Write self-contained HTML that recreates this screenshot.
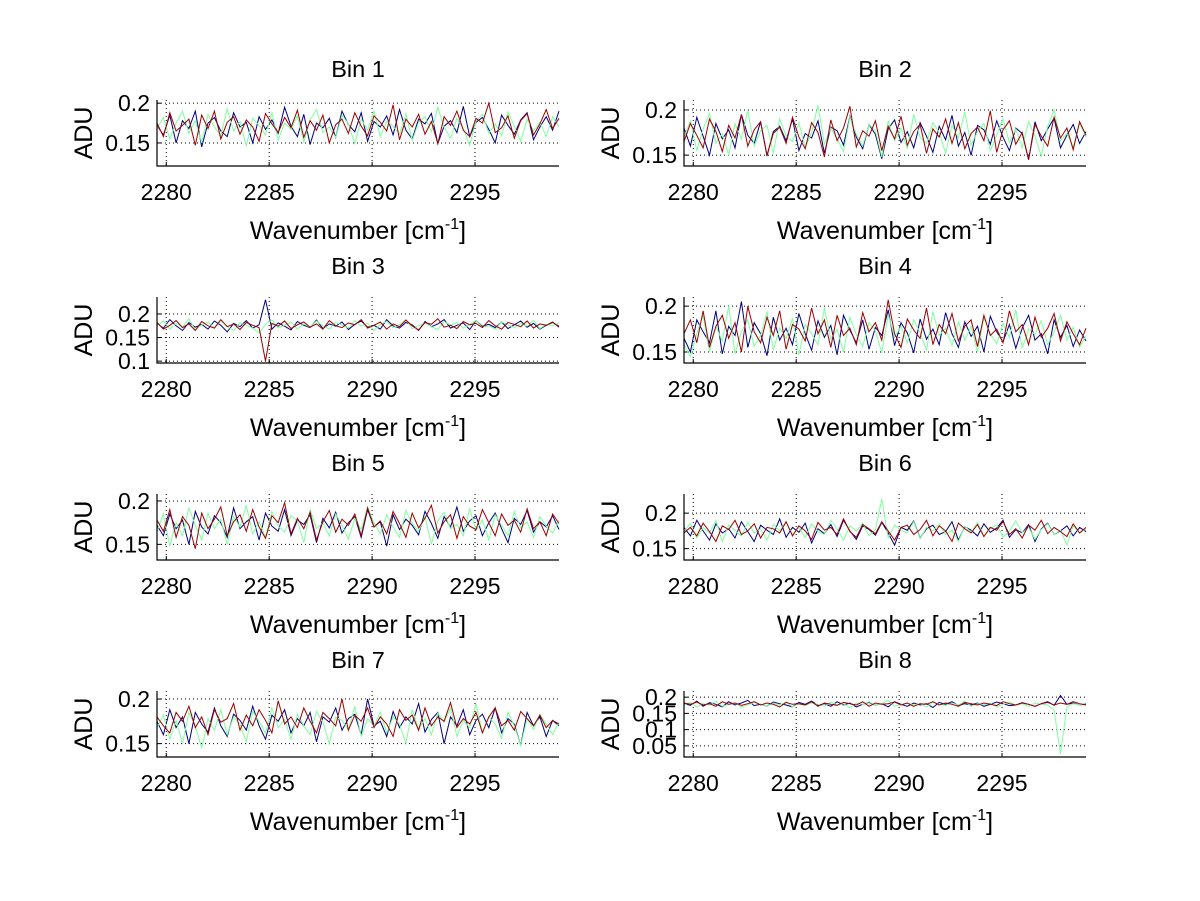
<!DOCTYPE html>
<html><head><meta charset="utf-8"><style>
body{margin:0;background:#fff;}
svg{display:block;font-family:"Liberation Sans",Arial,sans-serif;}
</style></head><body>
<svg id="fig" width="1200" height="901" viewBox="0 0 1200 901"></svg>
<script>
// values in milli-ADU (1e-3 ADU), 64 samples each, spanning the wavenumber range
const wnMin = 2279.55, wnMax = 2299.08;
const xTicks = [2280, 2285, 2290, 2295];
const binTitles = ["Bin 1","Bin 2","Bin 3","Bin 4","Bin 5","Bin 6","Bin 7","Bin 8"];
const yLimits = [[0.121,0.204],[0.138,0.211],[0.096,0.236],[0.138,0.210],[0.132,0.208],[0.134,0.227],[0.135,0.209],[0.0156,0.219]];
const yTicks = [[0.15,0.2],[0.15,0.2],[0.1,0.15,0.2],[0.15,0.2],[0.15,0.2],[0.15,0.2],[0.15,0.2],[0.05,0.1,0.15,0.2]];
const yTickLabels = [["0.15","0.2"],["0.15","0.2"],["0.1","0.15","0.2"],["0.15","0.2"],["0.15","0.2"],["0.15","0.2"],["0.15","0.2"],["0.05","0.1","0.15","0.2"]];

const bin1Blue=[172,160,185,150,178,168,190,145,175,182,165,158,188,170,176,150,183,167,179,162,195,171,158,186,148,175,169,181,157,190,173,164,188,152,177,170,184,160,192,166,155,180,174,187,149,171,178,163,196,158,176,182,167,150,185,172,161,179,188,154,170,183,166,190];
const bin1Green=[168,182,155,175,190,162,178,150,186,170,159,193,165,177,146,181,172,160,188,154,175,167,184,151,179,192,163,170,157,185,174,149,180,166,190,158,177,171,161,187,153,176,183,164,195,170,156,181,168,147,178,186,162,174,159,189,171,152,180,165,176,158,183,170];
const bin1Red=[175,158,188,165,172,180,147,185,168,190,155,176,183,161,179,170,152,187,174,163,182,169,191,157,178,166,185,150,173,180,162,188,171,159,184,176,165,198,154,180,170,186,161,177,149,183,172,190,166,158,181,175,200,163,169,184,156,178,187,160,174,192,168,181];
const bin2Blue=[180,160,192,171,150,185,168,178,158,195,172,163,187,149,176,182,166,190,155,174,169,188,152,181,177,161,193,170,157,184,173,146,179,189,164,176,158,186,171,153,182,167,194,160,175,150,183,178,162,188,170,155,180,174,145,187,166,179,191,158,172,184,163,176];
const bin2Green=[170,188,155,179,196,163,174,150,185,168,199,160,177,183,152,190,171,165,186,158,175,205,162,180,168,154,192,173,160,184,177,148,188,166,180,157,195,170,163,186,175,152,183,169,198,161,176,185,155,172,190,164,179,158,187,171,149,182,200,166,174,159,185,170];
const bin2Red=[165,185,172,158,190,176,154,183,169,195,160,178,187,150,174,181,163,192,170,157,186,175,148,189,166,180,204,159,177,171,188,155,182,168,193,161,176,184,152,179,170,190,163,186,157,174,181,166,199,153,178,188,162,175,145,184,171,160,192,169,180,156,187,172];
const bin3Blue=[180,170,188,175,165,182,172,178,168,185,176,162,180,173,186,170,177,230,168,181,174,166,184,176,171,187,169,179,174,183,167,178,185,172,176,168,188,175,170,182,177,165,184,173,179,188,170,176,181,167,186,174,178,171,183,169,177,185,172,180,168,176,182,174];
const bin3Green=[175,185,168,180,172,190,166,177,183,170,186,174,165,181,176,170,160,178,187,171,176,183,168,179,172,185,175,168,182,177,170,186,174,180,165,178,184,171,177,188,169,175,181,173,167,184,176,182,170,178,186,172,175,168,183,177,171,180,174,186,169,178,175,181];
const bin3Red=[182,168,176,186,171,179,165,184,175,170,188,173,179,167,182,176,171,100,180,174,185,169,177,183,172,179,168,186,175,171,181,177,188,170,176,183,168,179,173,187,175,166,182,178,190,172,176,169,184,177,180,171,186,175,168,182,178,173,185,170,179,176,183,172];
const bin4Blue=[165,150,185,172,160,195,148,178,168,205,155,182,170,146,188,163,176,158,192,170,152,184,166,179,147,190,174,160,185,153,177,168,196,157,182,171,149,186,164,175,158,193,170,155,183,167,178,150,189,172,161,180,154,176,190,163,170,148,185,166,179,156,174,162];
const bin4Green=[158,145,170,190,150,178,162,200,148,172,185,156,168,194,152,176,165,187,147,180,170,158,198,164,175,150,188,169,156,182,173,149,191,166,178,160,185,171,152,194,168,176,157,183,163,178,150,187,170,159,181,166,196,154,175,169,184,158,172,190,163,177,155,168];
const bin4Red=[170,185,160,195,155,178,190,165,182,150,200,172,160,188,168,195,153,180,175,162,198,170,185,155,190,168,176,158,193,172,182,163,207,170,155,186,174,165,198,158,180,170,192,162,178,185,156,190,168,175,160,195,172,180,158,188,166,176,192,162,183,170,158,176];
const bin5Blue=[172,160,185,168,178,150,188,170,162,183,175,158,192,168,176,182,155,186,171,165,190,160,178,173,184,152,180,169,187,163,175,182,158,190,170,176,148,184,167,179,172,161,188,174,157,182,170,193,165,177,183,160,175,186,168,152,180,173,189,164,176,170,183,167];
const bin5Green=[165,185,148,175,160,192,172,155,186,168,179,150,182,170,195,162,176,158,188,171,164,183,177,152,190,168,175,160,185,172,156,180,167,193,175,162,184,170,158,189,174,165,182,150,177,187,168,173,160,191,166,178,155,184,172,160,188,169,176,158,182,171,163,178];
const bin5Red=[178,165,190,158,182,172,145,186,168,179,193,160,176,184,165,190,170,157,183,175,198,162,180,168,187,155,176,189,164,179,172,185,160,192,170,177,162,188,174,158,186,169,180,195,163,176,184,157,182,171,167,190,175,160,185,172,178,164,191,168,176,160,185,174];
const bin6Blue=[180,168,190,175,162,185,172,178,165,188,174,160,183,176,170,192,166,180,173,186,158,178,171,184,167,190,175,163,182,177,169,187,172,155,180,176,189,165,178,183,170,174,188,162,181,176,168,185,173,179,190,166,177,172,184,160,178,186,170,175,182,168,180,174];
const bin6Green=[175,185,165,180,172,190,160,183,176,168,187,172,178,162,184,175,188,170,180,166,185,174,170,190,178,162,182,175,186,168,177,220,165,183,176,172,188,164,180,175,185,170,176,160,182,173,187,168,178,184,166,175,189,172,180,163,177,185,170,176,155,182,172,178];
const bin6Red=[172,180,168,186,174,160,182,177,190,170,175,185,165,180,178,172,188,168,182,175,163,187,176,180,170,192,174,166,184,178,171,188,175,162,180,183,170,177,190,168,182,175,160,186,178,172,184,167,180,176,188,170,178,165,183,176,190,171,180,174,167,185,172,180];
const bin7Blue=[175,160,188,168,180,150,185,172,163,190,170,158,183,176,165,192,170,155,182,175,188,162,178,170,185,152,180,174,190,165,178,183,160,200,170,175,158,186,168,180,172,195,163,177,185,150,180,170,188,160,176,183,168,190,162,178,172,148,185,170,180,158,176,170];
const bin7Green=[168,182,155,176,150,185,170,145,178,165,188,160,180,172,152,186,175,162,190,168,177,155,183,170,160,186,174,150,180,176,165,192,158,178,170,185,162,180,172,150,188,166,178,160,184,174,190,158,176,168,195,162,180,172,156,185,170,148,178,166,183,172,160,174];
const bin7Red=[180,170,162,185,175,192,168,180,160,188,174,178,195,165,182,170,188,176,162,198,172,180,168,190,175,162,185,178,170,200,165,182,175,190,168,180,172,158,188,176,182,165,190,170,180,175,196,168,178,172,185,162,180,190,170,176,165,186,178,170,182,168,176,172];
const bin8Blue=[180,175,188,172,183,178,170,186,176,182,190,174,178,172,185,180,176,170,184,178,188,175,180,172,186,176,182,170,178,184,175,180,170,186,178,172,182,176,180,168,184,178,186,174,180,176,182,172,178,185,180,174,176,183,178,172,180,186,175,205,178,182,176,180];
const bin8Green=[176,184,170,180,175,188,172,178,182,170,176,185,178,172,182,176,186,170,180,175,182,178,172,185,176,180,168,182,178,186,175,180,190,172,178,182,176,180,170,184,178,175,182,176,188,172,180,176,182,170,178,185,176,180,172,182,178,176,160,25,170,180,176,182];
const bin8Red=[182,178,185,176,180,172,186,178,182,175,180,186,176,182,178,170,184,178,180,176,186,172,182,178,175,184,180,176,186,172,182,178,180,185,176,182,172,180,178,186,176,182,178,172,184,180,176,182,178,174,186,180,176,182,178,172,180,184,176,182,178,186,180,176];

const blueSeries=[bin1Blue,bin2Blue,bin3Blue,bin4Blue,bin5Blue,bin6Blue,bin7Blue,bin8Blue];
const greenSeries=[bin1Green,bin2Green,bin3Green,bin4Green,bin5Green,bin6Green,bin7Green,bin8Green];
const redSeries=[bin1Red,bin2Red,bin3Red,bin4Red,bin5Red,bin6Red,bin7Red,bin8Red];

const NS="http://www.w3.org/2000/svg";
const svg=document.getElementById('fig');
function mk(tag,attrs,parent){const e=document.createElementNS(NS,tag);for(const k in attrs)e.setAttribute(k,attrs[k]);(parent||svg).appendChild(e);return e;}

const colLeft=[157,684], axW=402, rowTop=[100,297,494,691], axH=66;
for(let i=0;i<8;i++){
  const L=colLeft[i%2], T=rowTop[Math.floor(i/2)], B=T+axH, R=L+axW;
  const g=mk('g',{});
  
  
  const xs=v=>L+(v-wnMin)/(wnMax-wnMin)*axW;
  const ys=v=>B-(v-yLimits[i][0])/(yLimits[i][1]-yLimits[i][0])*axH;
  xTicks.forEach(t=>{
    const gl=mk('line',{x1:xs(t),x2:xs(t),y1:T,y2:B,stroke:'#000','stroke-width':1,'stroke-dasharray':'1,3'},g);
    
    
    mk('line',{x1:xs(t),x2:xs(t),y1:B,y2:B-4,stroke:'#000'},g);
    const tl=mk('text',{x:xs(t),y:B+34,'font-size':23,'text-anchor':'middle',fill:'#000'},g);
    tl.textContent=t;
    
    
  });
  yTicks[i].forEach((t,k)=>{
    const gl=mk('line',{x1:L,x2:R,y1:ys(t),y2:ys(t),stroke:'#000','stroke-width':1,'stroke-dasharray':'1,3'},g);
    
    
    mk('line',{x1:L,x2:L+4,y1:ys(t),y2:ys(t),stroke:'#000'},g);
    const tl=mk('text',{x:L-7,y:ys(t)+8,'font-size':23,'text-anchor':'end',fill:'#000'},g);
    tl.textContent=yTickLabels[i][k];
    
    
  });
  const series=[[blueSeries[i],'#00007f','blue-series'],[greenSeries[i],'#7fff9f','green-series'],[redSeries[i],'#a00000','red-series']];
  series.forEach(([arr,col,nm])=>{
    const n=arr.length;
    const pts=arr.map((v,k)=>xs(wnMin+k/(n-1)*(wnMax-wnMin)).toFixed(1)+','+ys(v/1000).toFixed(1)).join(' ');
    const pl=mk('polyline',{points:pts,fill:'none',stroke:col,'stroke-width':1},g);
    
    
  });
  mk('rect',{x:L-1,y:B+0.5,width:axW+2,height:12,fill:'#fff'},g);
  mk('rect',{x:L-1,y:T-12,width:axW+2,height:11.5,fill:'#fff'},g);
  const ax=mk('path',{d:`M${L},${T} L${L},${B} L${R},${B}`,fill:'none',stroke:'#000','stroke-width':1.2},g);
  
  
  const ti=mk('text',{x:L+axW/2,y:T-23,'font-size':23.5,'text-anchor':'middle',fill:'#000'},g);
  ti.textContent=binTitles[i];
  
  
  const yl=mk('text',{x:0,y:0,'font-size':25,'text-anchor':'middle',fill:'#000',transform:`translate(${L-65},${T+axH/2}) rotate(-90)`},g);
  yl.textContent='ADU';
  
  
  const xl=mk('text',{x:L+axW/2,y:B+73,'font-size':25,'text-anchor':'middle',fill:'#000'},g);
  xl.innerHTML='Wavenumber [cm<tspan dy="-10" font-size="16">-1</tspan><tspan dy="10">]</tspan>';
  
  
}
</script>
</body></html>
